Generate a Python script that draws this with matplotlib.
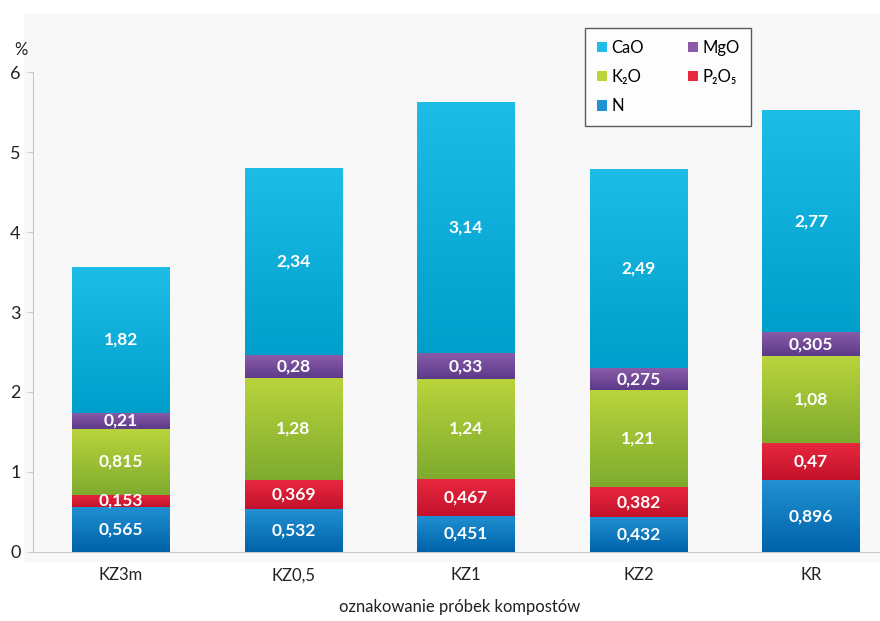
import matplotlib
matplotlib.use("Agg")
import matplotlib.pyplot as plt
import numpy as np
from matplotlib.patches import Rectangle
from matplotlib.colors import LinearSegmentedColormap

categories = ["KZ3m", "KZ0,5", "KZ1", "KZ2", "KR"]
N = [0.565, 0.532, 0.451, 0.432, 0.896]
P2O5 = [0.153, 0.369, 0.467, 0.382, 0.47]
K2O = [0.815, 1.28, 1.24, 1.21, 1.08]
MgO = [0.21, 0.28, 0.33, 0.275, 0.305]
CaO = [1.82, 2.34, 3.14, 2.49, 2.77]

series = [
    ("N", N, "#2191d2", "#0062aa"),
    ("P₂O₅", P2O5, "#e8283f", "#c4122c"),
    ("K₂O", K2O, "#bad43c", "#7eab2e"),
    ("MgO", MgO, "#8a5ca8", "#5c3a8a"),
    ("CaO", CaO, "#1dbde8", "#009fcb"),
]

FONT = ["Lato", "DejaVu Sans"]
plt.rcParams["font.family"] = FONT

W, H = 880, 621
fig = plt.figure(figsize=(W / 100, H / 100), dpi=100)
fig.patch.set_facecolor("white")

# grey background panel
fig.patches.append(Rectangle((24 / W, (H - 562) / H), (W - 24) / W, (562 - 14) / H,
                             transform=fig.transFigure, facecolor="#f8f8f8",
                             edgecolor="none", zorder=-5))

ax_left, ax_right = 33, 880
ax_bottom, ax_top = 552, 14
ax = fig.add_axes([ax_left / W, (H - ax_bottom) / H, (ax_right - ax_left) / W,
                   (ax_bottom - ax_top) / H])
ax.set_facecolor("none")
ax.set_zorder(1)

x0, step = 121, 172.5
x = np.arange(len(categories))
width = 0.565
bottom = np.zeros(len(categories))
handles = {}
for name, vals, ctop, cbot in series:
    vals = np.array(vals)
    bars = ax.bar(x, vals, width, bottom=bottom, color=ctop, edgecolor="none", zorder=2)
    cmap = LinearSegmentedColormap.from_list(name, [cbot, ctop])
    grad = np.linspace(0, 1, 256).reshape(-1, 1)
    for b in bars:
        bx, by = b.get_x(), b.get_y()
        bw, bh = b.get_width(), b.get_height()
        im = ax.imshow(grad, cmap=cmap, origin="lower", aspect="auto",
                       extent=[bx, bx + bw, by, by + bh], zorder=3,
                       interpolation="bilinear")
        im.set_clip_path(b)
    for xi, v, bo in zip(x, vals, bottom):
        ax.text(xi, bo + v / 2, f"{v:g}".replace(".", ","), ha="center", va="center",
                color="white", fontsize=12.5, fontweight="bold", zorder=5)
    handles[name] = Rectangle((0, 0), 1, 1, facecolor=ctop, edgecolor="none")
    bottom += vals

ax.set_xlim((ax_left - x0) / step, (ax_right - x0) / step)
ax.set_ylim(0, (ax_bottom - ax_top) / 80)

for s in ["top", "right"]:
    ax.spines[s].set_visible(False)
ax.spines["left"].set_color("#c5cad0")
ax.spines["bottom"].set_color("#c5cad0")
ax.spines["left"].set_bounds(0, 6)
ax.set_yticks(range(7))
ax.set_yticklabels([str(i) for i in range(7)], fontsize=13, color="#222222")
ax.tick_params(axis="y", length=4, color="#c5cad0", pad=5)
ax.set_xticks(x)
ax.set_xticklabels(categories, fontsize=12, color="#222222")
ax.tick_params(axis="x", length=0, pad=11)

fig.text(14 / W, 1 - 50 / H, "%", fontsize=12, ha="left", va="center", color="#222222")
fig.text(460 / W, 1 - 607 / H, "oznakowanie próbek kompostów", fontsize=12,
         ha="center", va="center", color="#222222")

order = ["CaO", "K₂O", "N", "MgO", "P₂O₅"]
leg = ax.legend([handles[k] for k in order], order, ncol=2,
                loc="upper left", bbox_to_anchor=((585 - ax_left) / (ax_right - ax_left),
                                                  (ax_bottom - 28) / (ax_bottom - ax_top)),
                fontsize=12, frameon=True, fancybox=False, handlelength=0.6,
                handleheight=0.6, handletextpad=0.3, columnspacing=2.6,
                labelspacing=0.8, borderpad=0.7, borderaxespad=0)
leg.get_frame().set_edgecolor("#333333")
leg.get_frame().set_linewidth(1.0)
leg.get_frame().set_facecolor("white")
leg.set_zorder(10)

fig.savefig("out.png", dpi=100, facecolor=fig.get_facecolor())
